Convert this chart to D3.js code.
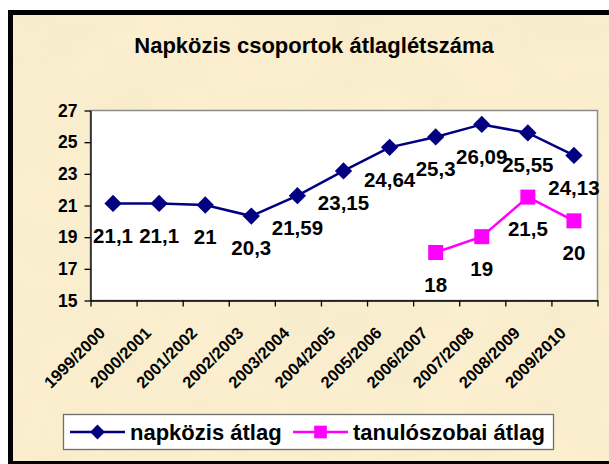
<!DOCTYPE html>
<html>
<head>
<meta charset="utf-8">
<script src="https://cdn.jsdelivr.net/npm/d3@7"></script>
<style>
  html, body { margin: 0; padding: 0; background: #ffffff; }
  svg { display: block; font-family: Arial, "Liberation Sans", sans-serif; }
</style>
</head>
<body>
<div id="chart"></div>
<script>
// school years on the x axis
const seasons = ["1999/2000", "2000/2001", "2001/2002", "2002/2003", "2003/2004",
  "2004/2005", "2005/2006", "2006/2007", "2007/2008", "2008/2009", "2009/2010"];

// napközis átlag (all years)
const napkozis = [21.1, 21.1, 21, 20.3, 21.59, 23.15, 24.64, 25.3, 26.09, 25.55, 24.13];

// tanulószobai átlag (only the last four years)
const tanuloszobai = [null, null, null, null, null, null, null, 18, 19, 21.5, 20];

const yTicks = [15, 17, 19, 21, 23, 25, 27];

const seriesNames = ["napközis átlag", "tanulószobai átlag"];

const width = 609, height = 464;
const plot = { left: 90, top: 110, right: 597, bottom: 300 };

const svg = d3.select("#chart")
  .append("svg")
  .attr("width", width)
  .attr("height", height);

// parchment like background with a soft texture
const defs = svg.append("defs");
const filt = defs.append("filter").attr("id", "paper")
  .attr("x", 0).attr("y", 0).attr("width", "100%").attr("height", "100%");
filt.append("feTurbulence")
  .attr("type", "fractalNoise")
  .attr("baseFrequency", "0.012 0.02")
  .attr("numOctaves", 3)
  .attr("seed", 4)
  .attr("result", "noise");
filt.append("feColorMatrix")
  .attr("in", "noise")
  .attr("type", "matrix")
  .attr("values", "0 0 0 0 0.88  0 0 0 0 0.8  0 0 0 0 0.58  0 0 0 -1.1 0.8")
  .attr("result", "tint");
filt.append("feComposite").attr("in", "tint").attr("in2", "SourceGraphic").attr("operator", "in");

svg.append("rect")
  .attr("x", 10).attr("y", 12)
  .attr("width", 610).attr("height", 460)
  .attr("fill", "#fbefcf");
svg.append("rect")
  .attr("x", 10).attr("y", 12)
  .attr("width", 610).attr("height", 460)
  .attr("fill", "#fbefcf")
  .attr("filter", "url(#paper)")
  .attr("opacity", 0.6);

// black frame
svg.append("rect")
  .attr("x", 10.5).attr("y", 12.5)
  .attr("width", 610).attr("height", 451)
  .attr("fill", "none")
  .attr("stroke", "#000")
  .attr("stroke-width", 5);

// title
svg.append("text")
  .attr("x", 314).attr("y", 53)
  .attr("text-anchor", "middle")
  .style("font-size", "22px")
  .style("font-weight", "bold")
  .text("Napközis csoportok átlaglétszáma");

// scales
const x = d3.scaleBand()
  .domain(seasons)
  .range([plot.left, plot.right]);

const xEdge = d3.scaleLinear()
  .domain([0, seasons.length])
  .range([plot.left, plot.right]);

const y = d3.scaleLinear()
  .domain([15, 27])
  .range([plot.bottom, plot.top]);

const cx = function(s) { return x(s) + x.bandwidth() / 2; };

// plot area
svg.append("rect")
  .attr("x", plot.left + 0.5).attr("y", plot.top + 0.5)
  .attr("width", plot.right - plot.left).attr("height", plot.bottom - plot.top)
  .attr("fill", "#fff")
  .attr("stroke", "#8c8c8c")
  .attr("stroke-width", 1.5);

// y axis
const yAxis = svg.append("g")
  .attr("transform", `translate(${plot.left + 0.5},0.5)`)
  .call(d3.axisLeft(y).tickValues(yTicks).tickSize(6).tickSizeOuter(0).tickPadding(7));
yAxis.selectAll("text")
  .style("font-size", "17.5px")
  .style("font-weight", "bold")
  .style("font-family", "Arial, 'Liberation Sans', sans-serif")
  .attr("fill", "#000");
yAxis.selectAll("line, path").attr("stroke", "#000").attr("stroke-width", 1.3);

// x axis: ticks at category boundaries
const xAxis = svg.append("g")
  .attr("transform", `translate(0.5,${plot.bottom + 0.5})`)
  .call(d3.axisBottom(xEdge).tickValues(d3.range(seasons.length + 1)).tickSize(6).tickSizeOuter(0).tickFormat(""));
xAxis.selectAll("line, path").attr("stroke", "#000").attr("stroke-width", 1.3);

// rotated category labels
svg.append("g")
  .selectAll("text")
  .data(seasons)
  .enter()
  .append("text")
  .attr("transform", function(d) { return `translate(${cx(d) - 11},${plot.bottom + 30}) rotate(-45)`; })
  .attr("text-anchor", "end")
  .attr("dy", "0.35em")
  .style("font-size", "16.5px")
  .style("font-weight", "bold")
  .text(function(d) { return d; });

const colors = ["#000080", "#ff00ff"];
const allSeries = [napkozis, tanuloszobai];

const line = d3.line()
  .defined(function(d) { return d.v != null; })
  .x(function(d) { return cx(d.s); })
  .y(function(d) { return y(d.v); });

allSeries.forEach(function(values, i) {
  const pts = seasons.map(function(s, j) { return { s: s, v: values[j] }; });
  const valid = pts.filter(function(d) { return d.v != null; });

  svg.append("path")
    .datum(pts)
    .attr("d", line)
    .attr("fill", "none")
    .attr("stroke", colors[i])
    .attr("stroke-width", 2.5);

  const size = i == 0 ? 150 : 225;
  svg.append("g")
    .selectAll("path")
    .data(valid)
    .enter()
    .append("path")
    .attr("transform", function(d) {
      return `translate(${cx(d.s)},${y(d.v)})` + (i == 0 ? " rotate(45)" : "");
    })
    .attr("d", d3.symbol().type(d3.symbolSquare).size(size))
    .attr("fill", colors[i]);

  // data labels under each point
  svg.append("g")
    .selectAll("text")
    .data(valid)
    .enter()
    .append("text")
    .attr("x", function(d) { return cx(d.s); })
    .attr("y", function(d) { return y(d.v) + 32; })
    .attr("dy", "0.35em")
    .attr("text-anchor", "middle")
    .style("font-size", "20.5px")
    .style("font-weight", "bold")
    .text(function(d) { return String(d.v).replace(".", ","); });
});

// legend
const lg = svg.append("g");
lg.append("rect")
  .attr("x", 63.5).attr("y", 414.5)
  .attr("width", 490).attr("height", 35)
  .attr("fill", "#fff")
  .attr("stroke", "#6e6e6e")
  .attr("stroke-width", 1.3);

const legendX = [70, 293];
seriesNames.forEach(function(name, i) {
  const lx = legendX[i];
  lg.append("line")
    .attr("x1", lx).attr("x2", lx + 55)
    .attr("y1", 432).attr("y2", 432)
    .attr("stroke", colors[i])
    .attr("stroke-width", 2.5);
  lg.append("path")
    .attr("transform", `translate(${lx + 27.5},432)` + (i == 0 ? " rotate(45)" : ""))
    .attr("d", d3.symbol().type(d3.symbolSquare).size(i == 0 ? 110 : 160))
    .attr("fill", colors[i]);
  lg.append("text")
    .attr("x", lx + 60).attr("y", 432)
    .attr("dy", "0.35em")
    .style("font-size", "22px")
    .style("font-weight", "bold")
    .text(name);
});
</script>
</body>
</html>
